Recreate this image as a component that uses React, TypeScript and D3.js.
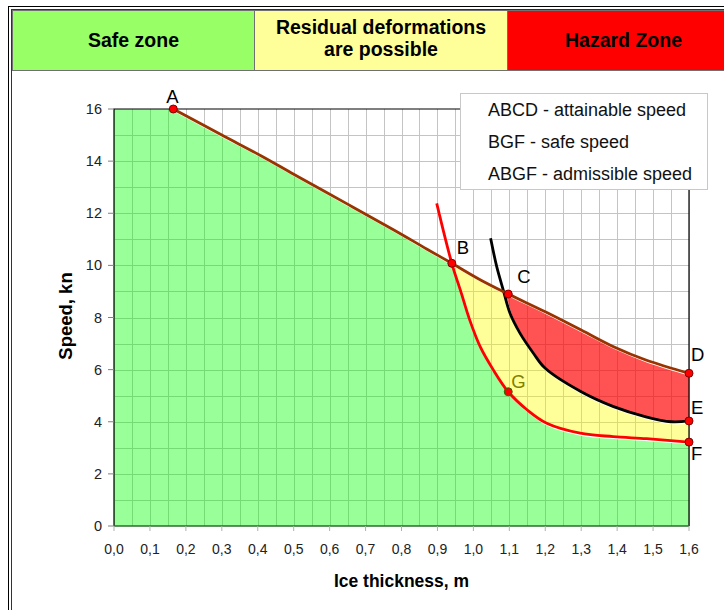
import React, { useRef, useEffect } from 'react';
import * as d3 from 'd3';

// ABCD - attainable speed (ice thickness m, speed kn)
const attainX = [0.165, 0.30, 0.41, 0.50, 0.65, 0.78, 0.87, 0.94, 1.02, 1.097, 1.20, 1.30, 1.39, 1.48, 1.60];
const attainY = [16.0, 15.0, 14.2, 13.5, 12.35, 11.35, 10.63, 10.08, 9.44, 8.9, 8.22, 7.52, 6.88, 6.37, 5.86];

// red curve through B, G, F - safe speed
const safeX = [0.898, 0.94, 0.965, 0.99, 1.02, 1.055, 1.097, 1.15, 1.204, 1.297, 1.389, 1.482, 1.60];
const safeY = [12.38, 10.08, 9.0, 7.9, 6.85, 6.0, 5.15, 4.45, 3.94, 3.56, 3.43, 3.35, 3.22];

// black curve through C to E
const limitX = [1.048, 1.065, 1.083, 1.102, 1.13, 1.167, 1.2, 1.3, 1.39, 1.48, 1.55, 1.60];
const limitY = [11.04, 9.95, 9.06, 8.16, 7.39, 6.63, 6.05, 5.15, 4.58, 4.19, 4.0, 4.03];

const pointNames = ['A', 'B', 'C', 'D', 'E', 'F', 'G'];
const pointX = [0.165, 0.94, 1.097, 1.6, 1.6, 1.6, 1.097];
const pointY = [16.0, 10.08, 8.9, 5.86, 4.03, 3.22, 5.15];

const zoneNames = ['Safe zone', 'Residual deformations|are possible', 'Hazard Zone'];
const zoneColors = ['#99ff66', '#ffff99', '#ff0000'];
const zoneWidths = [242, 253, 232];

const legendItems = ['ABCD - attainable speed', 'BGF - safe speed', 'ABGF - admissible speed'];

const xTicks = d3.range(0, 17).map(i => i / 10);
const yTicks = [0, 2, 4, 6, 8, 10, 12, 14, 16];

const zip = (xs, ys) => xs.map((v, i) => [v, ys[i]]);

const App = () => {
  const svgRef = useRef(null);

  useEffect(() => {
    const W = 724, H = 610;
    const svg = d3.select(svgRef.current);
    svg.selectAll('*').remove();
    const font = 'Arial, "Liberation Sans", sans-serif';

    // outer double frame
    svg.append('rect').attr('x', 8.5).attr('y', 6.5).attr('width', W).attr('height', H)
      .attr('fill', 'none').attr('stroke', '#000');
    svg.append('rect').attr('x', 11.5).attr('y', 9.5).attr('width', W).attr('height', H)
      .attr('fill', 'none').attr('stroke', '#333');

    // header zones
    let x0 = 12.5;
    zoneNames.forEach((name, i) => {
      const cw = zoneWidths[i];
      svg.append('rect').attr('x', x0).attr('y', 10.5).attr('width', cw).attr('height', 60)
        .attr('fill', zoneColors[i]).attr('stroke', '#707070');
      const lines = name.split('|');
      const cx = x0 + cw / 2;
      lines.forEach((ln, j) => {
        svg.append('text')
          .attr('x', cx)
          .attr('y', lines.length === 1 ? 47 : 34 + j * 22)
          .attr('text-anchor', 'middle')
          .attr('font-family', font).attr('font-weight', 'bold').attr('font-size', 19.5)
          .text(ln);
      });
      x0 += cw;
    });

    const x = d3.scaleLinear().domain([0, 1.6]).range([114, 689]);
    const y = d3.scaleLinear().domain([0, 16]).range([526, 109]);

    // grid
    const grid = svg.append('g').attr('stroke', '#c4c4c4').attr('stroke-width', 1);
    d3.range(0, 33).map(i => i * 0.05).forEach(v => {
      grid.append('line').attr('x1', Math.round(x(v)) + 0.5).attr('x2', Math.round(x(v)) + 0.5)
        .attr('y1', y(16)).attr('y2', y(0));
    });
    d3.range(1, 16).forEach(v => {
      grid.append('line').attr('x1', x(0)).attr('x2', x(1.6))
        .attr('y1', Math.round(y(v)) + 0.5).attr('y2', Math.round(y(v)) + 0.5);
    });

    const line = d3.line().x(d => x(d[0])).y(d => y(d[1])).curve(d3.curveCatmullRom.alpha(0.5));
    const seg = pts => line(pts);
    const join = (...parts) => parts.map((p, i) => (i === 0 ? p : p.replace(/^M/, 'L'))).join('') + 'Z';

    const attain = zip(attainX, attainY);
    const safe = zip(safeX, safeY);
    const limit = zip(limitX, limitY);

    const attainAB = attain.filter(d => d[0] <= 0.94);
    const attainBC = attain.filter(d => d[0] >= 0.94 && d[0] <= 1.097);
    const attainCD = attain.filter(d => d[0] >= 1.097);
    const safeBF = safe.slice(1);
    const limitCE = limit.slice(2);

    // green (admissible)
    svg.append('path')
      .attr('d', join(`M${x(0)},${y(0)}L${x(0)},${y(16)}`, seg(attainAB), seg(safeBF), `M${x(1.6)},${y(0)}`))
      .attr('fill', '#00ff00').attr('fill-opacity', 0.4);
    // yellow (residual deformations)
    svg.append('path')
      .attr('d', join(seg(attainBC), seg(limitCE), seg(safeBF.slice().reverse())))
      .attr('fill', '#ffff00').attr('fill-opacity', 0.4);
    // red (hazard)
    svg.append('path')
      .attr('d', join(seg(attainCD), seg(limitCE.slice().reverse())))
      .attr('fill', '#ff0000').attr('fill-opacity', 0.68);

    // frame
    const frame = svg.append('g').attr('stroke', '#000').attr('stroke-width', 1.2).attr('fill', 'none');
    frame.append('path').attr('d', `M${x(0)},${y(0)}L${x(0)},${y(16)}L${x(1.6)},${y(16)}L${x(1.6)},${y(0)}`);
    svg.append('line').attr('x1', x(0)).attr('x2', x(1.6)).attr('y1', y(0)).attr('y2', y(0))
      .attr('stroke', '#2d6b2d').attr('stroke-width', 1.5);

    // ticks
    yTicks.forEach(v => {
      svg.append('line').attr('x1', x(0) - 6).attr('x2', x(0)).attr('y1', y(v)).attr('y2', y(v))
        .attr('stroke', '#808080');
      svg.append('text').attr('x', 102).attr('y', y(v) + 5).attr('text-anchor', 'end')
        .attr('font-family', font).attr('font-size', 14.5).attr('fill', '#222').text(v);
    });
    xTicks.forEach(v => {
      svg.append('line').attr('x1', x(v)).attr('x2', x(v)).attr('y1', y(0)).attr('y2', y(0) + 5)
        .attr('stroke', '#b0b0b0');
      svg.append('text').attr('x', x(v)).attr('y', 554).attr('text-anchor', 'middle')
        .attr('font-family', font).attr('font-size', 14).attr('fill', '#222')
        .text(v.toFixed(1).replace('.', ','));
    });

    // axis titles
    svg.append('text').attr('x', x(0.8)).attr('y', 587).attr('text-anchor', 'middle')
      .attr('font-family', font).attr('font-weight', 'bold').attr('font-size', 17.5).text('Ice thickness, m');
    svg.append('text').attr('transform', 'translate(72,316) rotate(-90)').attr('text-anchor', 'middle')
      .attr('font-family', font).attr('font-weight', 'bold').attr('font-size', 18.5).text('Speed, kn');

    // curves with a light shadow underneath
    const curves = [
      { pts: safe, color: '#ff0000' },
      { pts: limit, color: '#000000' },
      { pts: attain, color: '#993300' },
    ];
    curves.forEach(c => {
      svg.append('path').attr('d', line(c.pts)).attr('fill', 'none')
        .attr('stroke', '#ffffff').attr('stroke-width', 2).attr('transform', 'translate(1,1.5)');
    });
    curves.forEach(c => {
      svg.append('path').attr('d', line(c.pts)).attr('fill', 'none')
        .attr('stroke', c.color).attr('stroke-width', 2.8);
    });

    // points + labels
    const labelOffset = {
      A: [-1, -6, 'middle'], B: [5, -9, 'start'], C: [9, -11, 'start'],
      D: [2, -12, 'start'], E: [2, -7, 'start'], F: [2, 18, 'start'], G: [3, -4, 'start'],
    };
    pointNames.forEach((n, i) => {
      const px = x(pointX[i]), py = y(pointY[i]);
      svg.append('circle').attr('cx', px).attr('cy', py).attr('r', 4)
        .attr('fill', '#ff0000').attr('stroke', n === 'G' ? '#336600' : '#800000').attr('stroke-width', 1);
      const [dx, dy, anchor] = labelOffset[n];
      svg.append('text').attr('x', px + dx).attr('y', py + dy).attr('text-anchor', anchor)
        .attr('font-family', font).attr('font-size', 18.5)
        .attr('fill', n === 'G' ? '#808000' : '#000').text(n);
    });

    // legend
    svg.append('rect').attr('x', 460.5).attr('y', 93.5).attr('width', 247).attr('height', 96)
      .attr('fill', '#fff').attr('stroke', '#c8c8c8');
    legendItems.forEach((t, i) => {
      svg.append('text').attr('x', 488).attr('y', 116 + i * 32)
        .attr('font-family', font).attr('font-size', 18).attr('fill', '#111').text(t);
    });
  }, []);

  return (
    <svg ref={svgRef} width={724} height={610}
      style={{ position: 'absolute', left: 0, top: 0, background: '#fff' }} />
  );
};

export default App;
